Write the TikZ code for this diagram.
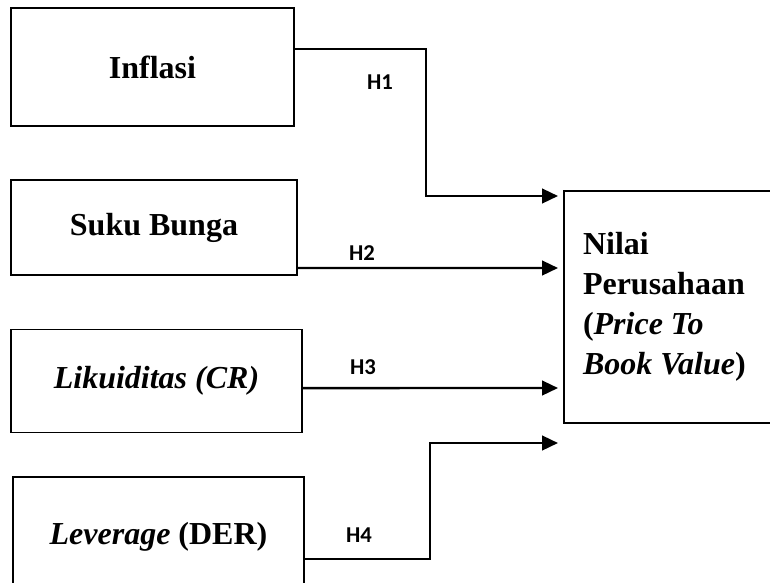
\documentclass[tikz,border=0pt]{standalone}
\usepackage{fontspec}
\setmainfont{Liberation Serif}
\newfontfamily\labelfont{Carlito}
\usetikzlibrary{positioning, arrows.meta}

\begin{document}
\begin{tikzpicture}[x=0.75pt, y=-0.75pt,
  var/.style={draw, line width=1.1pt, rectangle, inner sep=0pt, font=\fontsize{24}{30}\selectfont\bfseries},
  link/.style={line width=1.8pt, -{Triangle[length=12pt, width=11pt]}, shorten >=4.5pt},
  hyp/.style={font=\labelfont\fontsize{17}{20}\selectfont\bfseries, inner sep=0pt}]
  \path[use as bounding box, clip] (0,0) rectangle (770,582);

  \node[var, minimum width=212.25pt, minimum height=88.5pt] (inflasi) at (152.5,67) {Inflasi};
  \node[var, minimum width=214.5pt, minimum height=71.25pt] (bunga) at (154,227.5) {Suku Bunga};
  \node[var, minimum width=218.25pt, minimum height=77.25pt] (likuid) at (156.5,381) {\itshape Likuiditas (CR)};
  \node[var, minimum width=218.25pt, minimum height=90pt] (leverage) at (158.5,537) {\textit{Leverage} (DER)};

  \node[var, line width=1.3pt, minimum width=169.5pt, minimum height=174pt, inner xsep=14.25pt,
        text width=141pt, align=flush left] (nilai) at (677,307)
        {Nilai\\Perusahaan\\(\textit{Price To}\\\textit{Book Value})};

  \coordinate (in1) at (564,196);
  \coordinate (in2) at (564,268);
  \coordinate (in3) at (564,388);
  \coordinate (in4) at (564,443);

  \draw[link] ([yshift=13.5pt]inflasi.east) -| (426,196) -- (in1);
  \draw[link] ([yshift=-30.4pt]bunga.east) -- (in2);
  \draw[link] ([yshift=-5.3pt]likuid.east) -- (in3);
  \draw[link] ([yshift=-16.5pt]leverage.east) -| (430,443) -- (in4);

  \node[hyp] (h1) at (380,82) {H1};
  \node[hyp] (h2) at (362,253) {H2};
  \node[hyp] (h3) at (363,367) {H3};
  \node[hyp] (h4) at (359,535) {H4};
\end{tikzpicture}
\end{document}
